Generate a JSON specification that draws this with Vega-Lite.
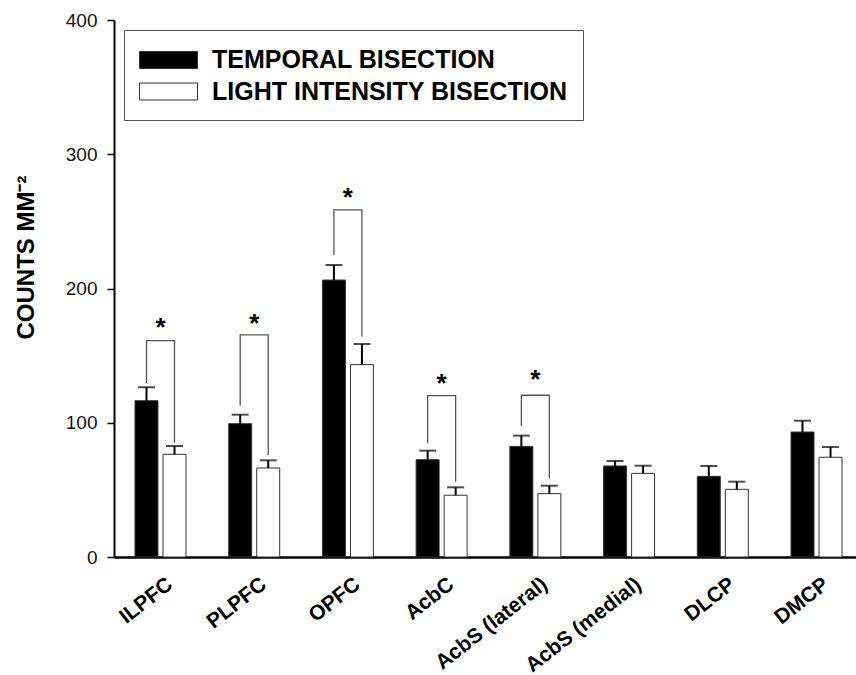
{
  "$schema": "https://vega.github.io/schema/vega-lite/v6.json",
  "width": 742,
  "height": 537,
  "autosize": {"type": "none"},
  "padding": {"left": 114, "top": 20, "right": 0, "bottom": 118},
  "config": {"view": {"stroke": null}, "font": "Liberation Sans"},
  "datasets": {
    "bars": [
      {"region": "ILPFC", "group": "TEMPORAL BISECTION", "value": 116.4, "upper": 126.4},
      {"region": "ILPFC", "group": "LIGHT INTENSITY BISECTION", "value": 76.5, "upper": 82.7},
      {"region": "PLPFC", "group": "TEMPORAL BISECTION", "value": 99.3, "upper": 106},
      {"region": "PLPFC", "group": "LIGHT INTENSITY BISECTION", "value": 66.3, "upper": 72},
      {"region": "OPFC", "group": "TEMPORAL BISECTION", "value": 206.3, "upper": 217.5},
      {"region": "OPFC", "group": "LIGHT INTENSITY BISECTION", "value": 143.3, "upper": 158.7},
      {"region": "AcbC", "group": "TEMPORAL BISECTION", "value": 72.5, "upper": 79.2},
      {"region": "AcbC", "group": "LIGHT INTENSITY BISECTION", "value": 46, "upper": 51.9},
      {"region": "AcbS (lateral)", "group": "TEMPORAL BISECTION", "value": 82.4, "upper": 90.4},
      {"region": "AcbS (lateral)", "group": "LIGHT INTENSITY BISECTION", "value": 47.2, "upper": 53.1},
      {"region": "AcbS (medial)", "group": "TEMPORAL BISECTION", "value": 67.8, "upper": 71.5},
      {"region": "AcbS (medial)", "group": "LIGHT INTENSITY BISECTION", "value": 62.3, "upper": 68},
      {"region": "DLCP", "group": "TEMPORAL BISECTION", "value": 60.1, "upper": 67.8},
      {"region": "DLCP", "group": "LIGHT INTENSITY BISECTION", "value": 50.4, "upper": 56.1},
      {"region": "DMCP", "group": "TEMPORAL BISECTION", "value": 93.1, "upper": 101.5},
      {"region": "DMCP", "group": "LIGHT INTENSITY BISECTION", "value": 74.3, "upper": 81.9}
    ],
    "brackets": [
      {"region": "ILPFC", "group": "TEMPORAL BISECTION", "y": 129.6, "o": 1},
      {"region": "ILPFC", "group": "TEMPORAL BISECTION", "y": 161.1, "o": 2},
      {"region": "ILPFC", "group": "LIGHT INTENSITY BISECTION", "y": 161.1, "o": 3},
      {"region": "ILPFC", "group": "LIGHT INTENSITY BISECTION", "y": 85.1, "o": 4},
      {"region": "PLPFC", "group": "TEMPORAL BISECTION", "y": 112.7, "o": 1},
      {"region": "PLPFC", "group": "TEMPORAL BISECTION", "y": 165.4, "o": 2},
      {"region": "PLPFC", "group": "LIGHT INTENSITY BISECTION", "y": 165.4, "o": 3},
      {"region": "PLPFC", "group": "LIGHT INTENSITY BISECTION", "y": 76, "o": 4},
      {"region": "OPFC", "group": "TEMPORAL BISECTION", "y": 225, "o": 1},
      {"region": "OPFC", "group": "TEMPORAL BISECTION", "y": 258.5, "o": 2},
      {"region": "OPFC", "group": "LIGHT INTENSITY BISECTION", "y": 258.5, "o": 3},
      {"region": "OPFC", "group": "LIGHT INTENSITY BISECTION", "y": 164.1, "o": 4},
      {"region": "AcbC", "group": "TEMPORAL BISECTION", "y": 84.7, "o": 1},
      {"region": "AcbC", "group": "TEMPORAL BISECTION", "y": 120.2, "o": 2},
      {"region": "AcbC", "group": "LIGHT INTENSITY BISECTION", "y": 120.2, "o": 3},
      {"region": "AcbC", "group": "LIGHT INTENSITY BISECTION", "y": 56.1, "o": 4},
      {"region": "AcbS (lateral)", "group": "TEMPORAL BISECTION", "y": 97.6, "o": 1},
      {"region": "AcbS (lateral)", "group": "TEMPORAL BISECTION", "y": 120.5, "o": 2},
      {"region": "AcbS (lateral)", "group": "LIGHT INTENSITY BISECTION", "y": 120.5, "o": 3},
      {"region": "AcbS (lateral)", "group": "LIGHT INTENSITY BISECTION", "y": 58.6, "o": 4}
    ],
    "stars": [
      {"region": "ILPFC", "y": 175},
      {"region": "PLPFC", "y": 178},
      {"region": "OPFC", "y": 272},
      {"region": "AcbC", "y": 133},
      {"region": "AcbS (lateral)", "y": 136}
    ]
  },
  "layer": [
    {
      "data": {"name": "bars"},
      "mark": {"type": "bar", "stroke": "#333", "strokeWidth": 1},
      "encoding": {
        "x": {
          "field": "region", "type": "nominal",
          "sort": ["ILPFC", "PLPFC", "OPFC", "AcbC", "AcbS (lateral)", "AcbS (medial)", "DLCP", "DMCP"],
          "scale": {"range": [0, 749], "paddingInner": 0.456, "paddingOuter": 0.224},
          "axis": {
            "title": null, "ticks": false, "domainColor": "black", "domainWidth": 2.5,
            "labelAngle": -38, "labelAlign": "right", "labelBaseline": "top",
            "labelOffset": 3, "labelPadding": 16, "labelFontSize": 21,
            "labelFontWeight": "bold", "labelColor": "black", "labelLimit": 0
          }
        },
        "xOffset": {
          "field": "group", "type": "nominal",
          "sort": ["TEMPORAL BISECTION", "LIGHT INTENSITY BISECTION"],
          "scale": {"paddingInner": 0.18, "paddingOuter": 0}
        },
        "y": {
          "field": "value", "type": "quantitative",
          "scale": {"domain": [0, 400], "nice": false},
          "axis": {
            "values": [0, 100, 200, 300, 400], "grid": false,
            "title": "COUNTS MM⁻²", "titleFontSize": 24, "titleFontWeight": "bold",
            "titleColor": "black", "titleX": -88, "titleY": 237, "titleAngle": -90,
            "titleAlign": "center", "titleBaseline": "middle",
            "domainColor": "black", "domainWidth": 2, "tickColor": "black",
            "tickSize": 7, "tickWidth": 1.5, "labelFontSize": 19, "labelPadding": 10,
            "labelColor": "#111"
          }
        },
        "fill": {
          "field": "group", "type": "nominal",
          "sort": ["TEMPORAL BISECTION", "LIGHT INTENSITY BISECTION"],
          "scale": {"range": ["black", "white"]},
          "legend": {
            "title": null, "orient": "none", "legendX": 10, "legendY": 10,
            "direction": "vertical",
            "symbolType": "M-1,-0.586L3,-0.586L3,0.586L-1,0.586Z",
            "symbolSize": 841, "symbolStrokeColor": "#333", "symbolStrokeWidth": 1,
            "labelFontSize": 25, "labelFontWeight": "bold", "labelColor": "black",
            "labelOffset": 43, "labelLimit": 0, "rowPadding": 3.5,
            "padding": 15, "strokeColor": "#555", "fillColor": "white"
          }
        }
      }
    },
    {
      "data": {"name": "bars"},
      "mark": {"type": "rule", "color": "black", "strokeWidth": 2},
      "encoding": {
        "x": {"field": "region", "type": "nominal", "sort": ["ILPFC", "PLPFC", "OPFC", "AcbC", "AcbS (lateral)", "AcbS (medial)", "DLCP", "DMCP"]},
        "xOffset": {"field": "group", "type": "nominal", "sort": ["TEMPORAL BISECTION", "LIGHT INTENSITY BISECTION"]},
        "y": {"field": "value", "type": "quantitative"},
        "y2": {"field": "upper"}
      }
    },
    {
      "data": {"name": "bars"},
      "mark": {"type": "tick", "orient": "horizontal", "color": "black", "size": 17, "thickness": 2},
      "encoding": {
        "x": {"field": "region", "type": "nominal", "sort": ["ILPFC", "PLPFC", "OPFC", "AcbC", "AcbS (lateral)", "AcbS (medial)", "DLCP", "DMCP"]},
        "xOffset": {"field": "group", "type": "nominal", "sort": ["TEMPORAL BISECTION", "LIGHT INTENSITY BISECTION"]},
        "y": {"field": "upper", "type": "quantitative"}
      }
    },
    {
      "data": {"name": "brackets"},
      "mark": {"type": "line", "color": "#555", "strokeWidth": 1.3},
      "encoding": {
        "x": {"field": "region", "type": "nominal", "sort": ["ILPFC", "PLPFC", "OPFC", "AcbC", "AcbS (lateral)", "AcbS (medial)", "DLCP", "DMCP"]},
        "xOffset": {"field": "group", "type": "nominal", "sort": ["TEMPORAL BISECTION", "LIGHT INTENSITY BISECTION"]},
        "y": {"field": "y", "type": "quantitative"},
        "detail": {"field": "region"},
        "order": {"field": "o", "type": "quantitative"}
      }
    },
    {
      "data": {"name": "stars"},
      "mark": {"type": "text", "text": "*", "fontSize": 26, "fontWeight": "bold", "color": "black", "baseline": "alphabetic", "dy": 14},
      "encoding": {
        "x": {"field": "region", "type": "nominal", "sort": ["ILPFC", "PLPFC", "OPFC", "AcbC", "AcbS (lateral)", "AcbS (medial)", "DLCP", "DMCP"]},
        "y": {"field": "y", "type": "quantitative"}
      }
    },
    {
      "mark": {"type": "rule", "color": "black", "strokeWidth": 1.5},
      "encoding": {"y": {"datum": 400}}
    }
  ]
}
